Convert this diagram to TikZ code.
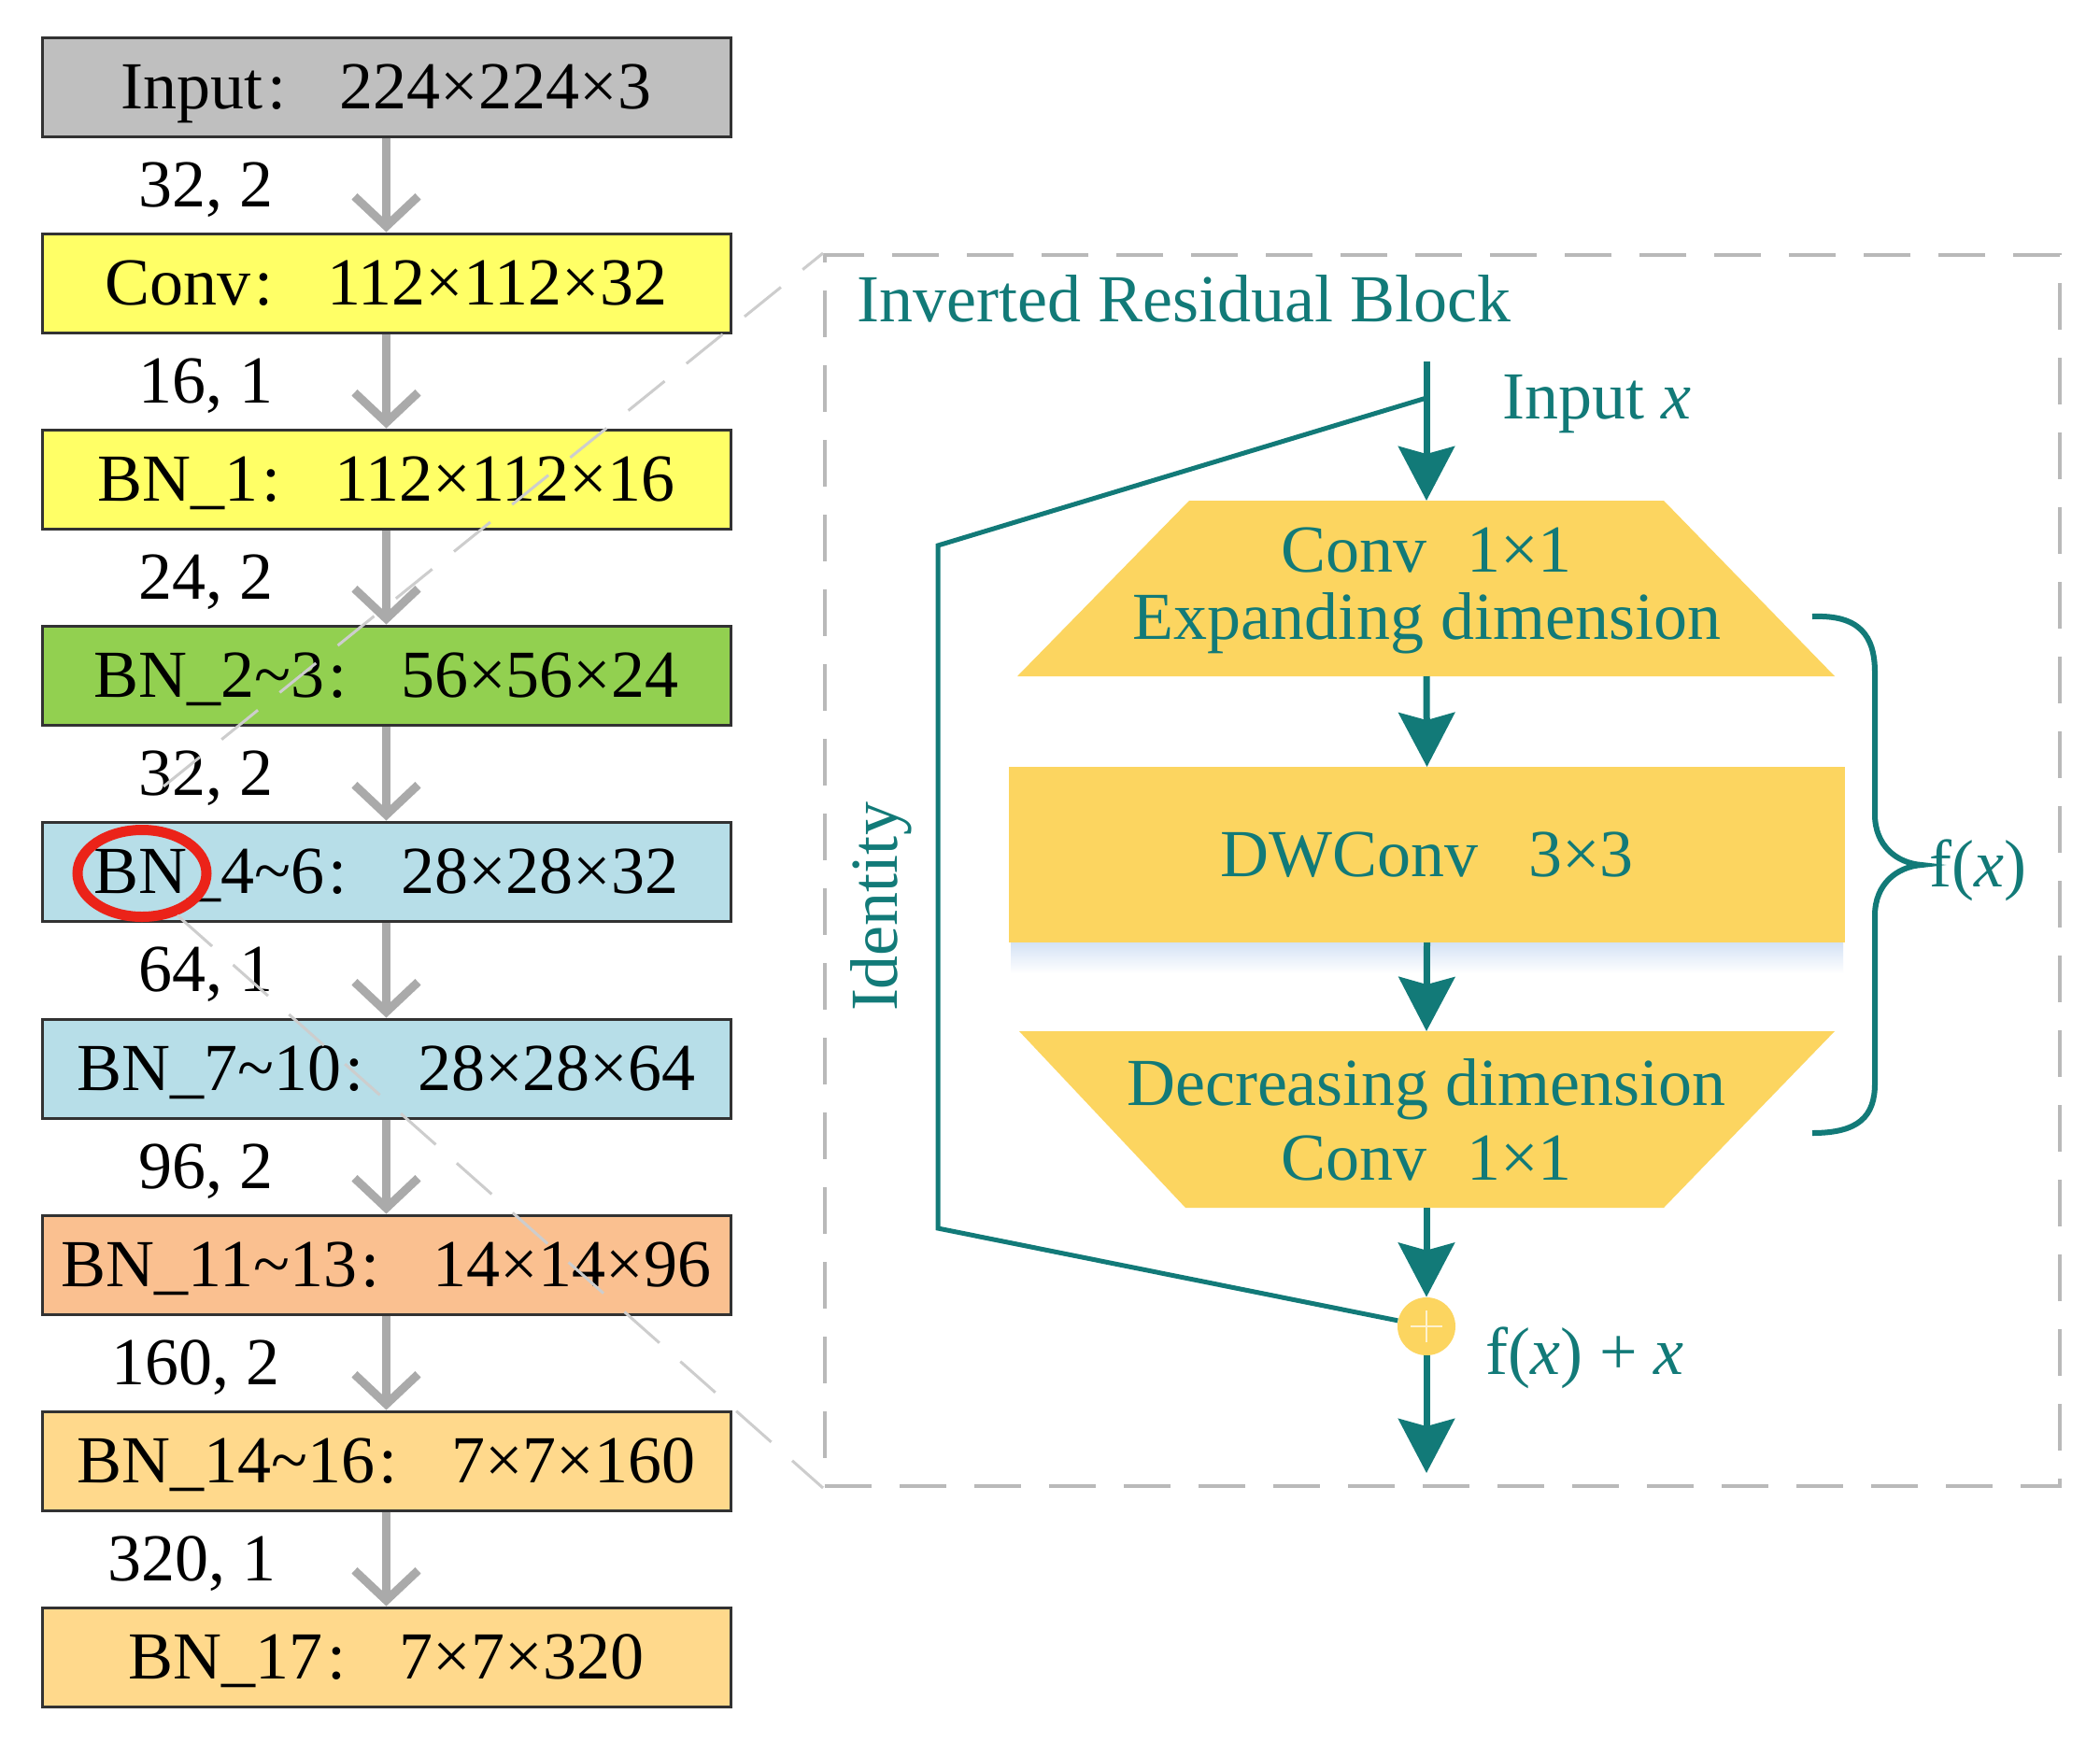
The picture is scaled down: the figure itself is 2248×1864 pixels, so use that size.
\documentclass[tikz,border=0pt]{standalone}
\usepackage{fontspec}
\setmainfont{Liberation Serif}
\usetikzlibrary{arrows.meta,shapes.geometric}
\definecolor{cgray}{RGB}{191,191,191}
\definecolor{cyel}{RGB}{255,255,102}
\definecolor{cgreen}{RGB}{146,208,80}
\definecolor{cblue}{RGB}{183,222,232}
\definecolor{cpeach}{RGB}{250,192,144}
\definecolor{corange}{RGB}{255,217,140}
\definecolor{boxline}{RGB}{50,50,50}
\definecolor{garr}{RGB}{170,170,170}
\definecolor{dgray}{RGB}{185,185,185}
\definecolor{zgray}{RGB}{205,205,205}
\definecolor{tealc}{RGB}{18,122,120}
\definecolor{ylw}{RGB}{252,213,96}
\definecolor{ringred}{RGB}{235,35,25}
\definecolor{shadowc}{RGB}{212,226,245}
\newcommand\fsz{\fontsize{36pt}{40pt}\selectfont}
\newcommand\cln{\hspace{0.06em}:\hspace{0.8em}}
\newcommand\tld{\char"007E\relax}
\begin{document}
\begin{tikzpicture}[x=0.5pt,y=-0.5pt,
  lbox/.style={draw=boxline, line width=1.5pt, minimum width=368.5pt, minimum height=53pt,
    inner sep=0pt, font=\fsz, text height=23.8pt, text depth=0pt},
  lab/.style={font=\fsz, anchor=base, inner sep=0pt},
  garrow/.style={draw=garr, line width=4.5pt, -{Straight Barb[length=16pt,width=34pt]}},
  ttext/.style={font=\fsz, text=tealc, inner sep=0pt, text height=23.8pt, text depth=0pt},
  tbase/.style={font=\fsz, text=tealc, inner sep=0pt, anchor=base},
  tarrow/.style={draw=tealc, line width=3.5pt, -{Stealth[length=29pt,width=30pt,inset=4pt]}},
  tline/.style={draw=tealc, line width=2.5pt, line join=miter},
  dbox/.style={draw=dgray, line width=2pt, dash pattern=on 25pt off 15pt, inner sep=0pt},
  zline/.style={draw=zgray, line width=1.5pt, dash pattern=on 25pt off 15pt},
  shapebox/.style={inner sep=0pt, outer sep=0pt}
]
\useasboundingbox (0,0) rectangle (2248,1864);
\fill[white] (0,0) rectangle (2248,1864);

% ---------- left column ----------
\node[lbox, fill=cgray]   (b0) at (413.5,93)   {Input\cln 224×224×3};
\node[lbox, fill=cyel]    (b1) at (413.5,303)  {Conv\cln 112×112×32};
\node[lbox, fill=cyel]    (b2) at (413.5,513)  {BN\_1\cln 112×112×16};
\node[lbox, fill=cgreen]  (b3) at (413.5,723)  {BN\_2\tld 3\cln 56×56×24};
\node[lbox, fill=cblue]   (b4) at (413.5,933)  {BN\_4\tld 6\cln 28×28×32};
\node[lbox, fill=cblue]   (b5) at (413.5,1144) {BN\_7\tld 10\cln 28×28×64};
\node[lbox, fill=cpeach]  (b6) at (413.5,1354) {BN\_11\tld 13\cln 14×14×96};
\node[lbox, fill=corange] (b7) at (413.5,1564) {BN\_14\tld 16\cln 7×7×160};
\node[lbox, fill=corange] (b8) at (413.5,1774) {BN\_17\cln 7×7×320};

\draw[garrow] (b0.south) -- (b1.north);
\draw[garrow] (b1.south) -- (b2.north);
\draw[garrow] (b2.south) -- (b3.north);
\draw[garrow] (b3.south) -- (b4.north);
\draw[garrow] (b4.south) -- (b5.north);
\draw[garrow] (b5.south) -- (b6.north);
\draw[garrow] (b6.south) -- (b7.north);
\draw[garrow] (b7.south) -- (b8.north);

\node[lab] (l1) at (220,221)  {32, 2};
\node[lab] (l2) at (220,431)  {16, 1};
\node[lab] (l3) at (220,641)  {24, 2};
\node[lab] (l4) at (220,851)  {32, 2};
\node[lab] (l5) at (220,1061) {64, 1};
\node[lab] (l6) at (220,1272) {96, 2};
\node[lab] (l7) at (209,1482) {160, 2};
\node[lab] (l8) at (205,1692) {320, 1};

% ---------- block frame and zoom lines ----------
\node[dbox, minimum width=661pt, minimum height=659pt] (blk) at (1544,932) {};
\node[ellipse, draw=ringred, line width=5.5pt, minimum width=69pt, minimum height=46.5pt, inner sep=0pt] (ring) at (152,935) {};
\coordinate (zA) at (175,842);
\draw[zline] (zA) -- (blk.north west);
\draw[zline] (ring.-50) -- (blk.south west);

% ---------- inverted residual block ----------
\node[ttext, anchor=west] (title) at (917,321) {Inverted Residual Block};

\fill[ylw] (1273,536) -- (1781,536) -- (1964,724) -- (1089,724) -- cycle;
\node[shapebox, minimum width=437.5pt, minimum height=94pt] (t1) at (1527,630) {};
\node[tbase] (t1a) at (1527,612) {Conv\hspace{0.6em}1×1};
\node[tbase] (t1b) at (1527,684) {Expanding dimension};

\shade[top color=shadowc, bottom color=white] (1082,1009) rectangle (1973,1042);
\node[shapebox, fill=ylw, minimum width=447.5pt, minimum height=94pt, font=\fsz, text=tealc,
  text height=23.8pt, text depth=0pt] (dw) at (1527.5,915) {DWConv\hspace{0.75em}3×3};

\fill[ylw] (1091,1104) -- (1964,1104) -- (1781,1293) -- (1269,1293) -- cycle;
\node[shapebox, minimum width=437.5pt, minimum height=94.5pt] (t2) at (1527,1198.5) {};
\node[tbase] (t2a) at (1527,1183) {Decreasing dimension};
\node[tbase] (t2b) at (1527,1263) {Conv\hspace{0.6em}1×1};

\node[circle, fill=ylw, minimum size=31pt, inner sep=0pt] (pl) at (1527,1420) {};
\draw[white, line width=1pt, opacity=0.7] (1510,1420) -- (1544,1420) (1527,1403) -- (1527,1437);

\coordinate (inx) at (1527,387);
\coordinate (idA) at (1527,426);
\coordinate (outx) at (1527,1577);
\draw[tarrow] (inx) -- (t1.north);
\draw[tarrow] (t1.south) -- (dw.north);
\draw[tarrow] (dw.south) -- (t2.north);
\draw[tarrow] (t2.south) -- (pl.north);
\draw[tarrow] (pl.south) -- (outx);
\draw[tline] (idA) -- (1004,584) -- (1004,1315) -- (pl);

\node[ttext, anchor=west] (inlab) at (1608,425) {Input \textit{x}};
\node[ttext, rotate=90] (idl) at (936.5,971) {Identity};
\node[ttext, anchor=west] (fxx) at (1590,1448) {f(\textit{x}) + \textit{x}};

\draw[tealc, line width=3pt]
  (1940,660) .. controls (1990,658) and (2007,680) .. (2007,720)
  -- (2007,872) .. controls (2007,905) and (2030,924) .. (2057,926)
  .. controls (2030,928) and (2007,947) .. (2007,980)
  -- (2007,1160) .. controls (2007,1195) and (1990,1213) .. (1940,1213);
\coordinate (brtip) at (2057,926);
\node[ttext, anchor=west] (fx) at ([xshift=4pt]brtip) {f(\textit{x})};
\end{tikzpicture}
\end{document}
